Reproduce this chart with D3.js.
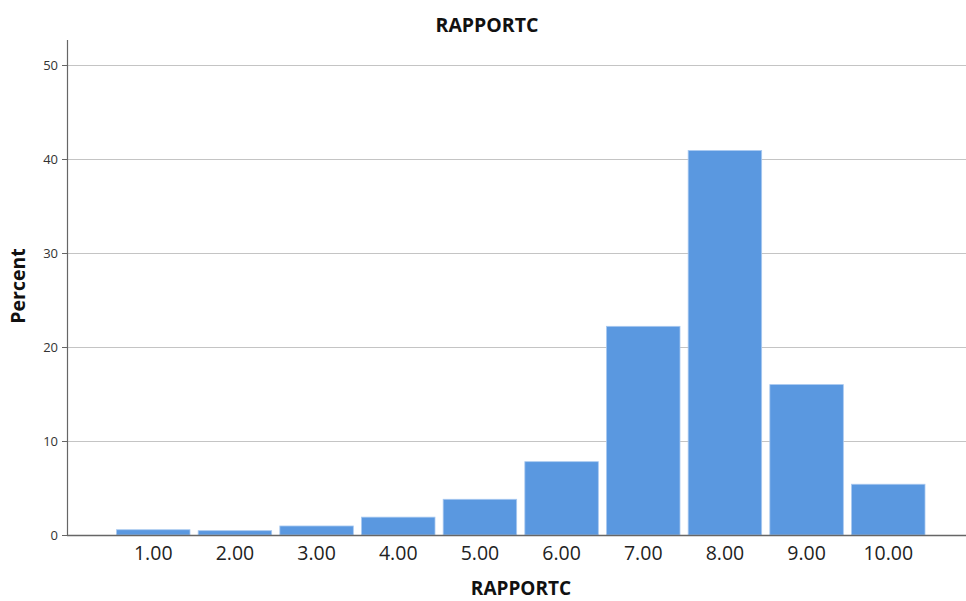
<!DOCTYPE html>
<html>
<head>
<meta charset="utf-8">
<script src="https://cdn.jsdelivr.net/npm/d3@7/dist/d3.min.js"></script>
<style>
html,body{margin:0;padding:0;background:#fff;}
svg{display:block;}
</style>
</head>
<body>
<svg id="chart" width="966" height="601"></svg>
<script>
const categories = ["1.00","2.00","3.00","4.00","5.00","6.00","7.00","8.00","9.00","10.00"];
const percents = [0.56, 0.46, 0.96, 1.9, 3.8, 7.8, 22.2, 40.9, 16.0, 5.4];
const yTicks = [0, 10, 20, 30, 40, 50];
const chartTitle = "RAPPORTC";
const xTitle = "RAPPORTC";
const yTitle = "Percent";

const svg = d3.select("#chart");
const font = "'Open Sans', 'DejaVu Sans', sans-serif";

const x = d3.scaleBand().domain(categories).range([116.5, 925]).paddingInner(0.1).paddingOuter(0);
const y = d3.scaleLinear().domain([0, 50]).range([535, 65]);

// gridlines
svg.append("g").selectAll("line").data(yTicks.filter(d => d > 0)).join("line")
  .attr("x1", 67).attr("x2", 966)
  .attr("y1", d => y(d) + 0.5).attr("y2", d => y(d) + 0.5)
  .attr("stroke", "#c4c4c4").attr("stroke-width", 1.2);

// bars
svg.append("g").selectAll("rect").data(percents).join("rect")
  .attr("x", (d, i) => x(categories[i]))
  .attr("width", x.bandwidth())
  .attr("y", d => y(d))
  .attr("height", d => y(0) - y(d))
  .attr("fill", "#5a98e0")
  .attr("stroke", "#a9c9f0").attr("stroke-width", 0.8);

// y axis
const yAxis = d3.axisLeft(y).tickValues(yTicks).tickSize(5).tickPadding(3).tickFormat(d3.format("d"));
const gy = svg.append("g").attr("transform", "translate(67,0)").call(yAxis);
gy.select(".domain").remove();
gy.selectAll(".tick line").attr("stroke", "#666");
gy.selectAll(".tick text").attr("font-family", font).attr("font-size", 13).attr("fill", "#333").attr("dx", "-1");
svg.append("line").attr("x1", 67.5).attr("x2", 67.5).attr("y1", 40).attr("y2", 536)
  .attr("stroke", "#666").attr("stroke-width", 1.2);

// x axis
const xAxis = d3.axisBottom(x).tickSize(0).tickPadding(8);
const gx = svg.append("g").attr("transform", "translate(0,535)").call(xAxis);
gx.select(".domain").remove();
gx.selectAll(".tick text").attr("font-family", font).attr("font-size", 19.5).attr("fill", "#222").attr("dy", "0.85em");
svg.append("line").attr("x1", 67).attr("x2", 966).attr("y1", 535.5).attr("y2", 535.5)
  .attr("stroke", "#666").attr("stroke-width", 1.5);

// titles
svg.append("text").attr("x", 487).attr("y", 32).attr("text-anchor", "middle")
  .attr("font-family", font).attr("font-weight", "bold").attr("font-size", 19.5).attr("fill", "#111")
  .text(chartTitle);
svg.append("text").attr("x", 521).attr("y", 595).attr("text-anchor", "middle")
  .attr("font-family", font).attr("font-weight", "bold").attr("font-size", 19).attr("fill", "#111")
  .text(xTitle);
svg.append("text").attr("transform", "translate(25,286) rotate(-90)").attr("text-anchor", "middle")
  .attr("font-family", font).attr("font-weight", "bold").attr("font-size", 19.5).attr("fill", "#111")
  .text(yTitle);
</script>
</body>
</html>
